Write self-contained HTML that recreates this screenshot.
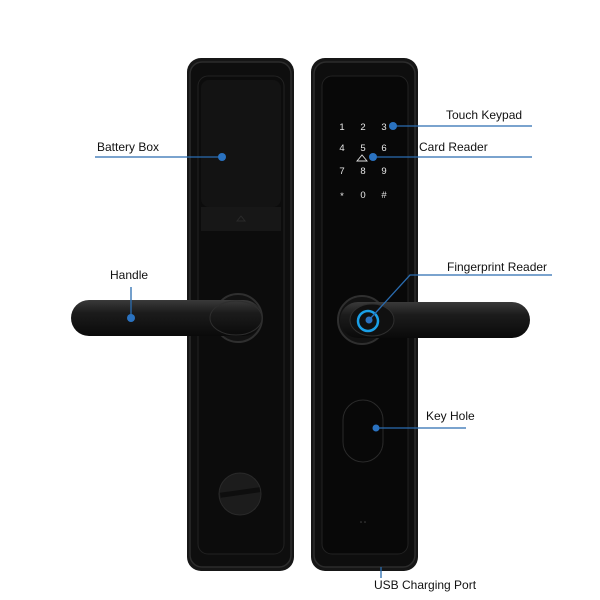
<!DOCTYPE html>
<html><head><meta charset="utf-8"><style>
html,body{margin:0;padding:0;background:#fff;}
svg{display:block;}
text{font-family:"Liberation Sans",sans-serif;font-size:12px;fill:#111;}
.k{fill:#e8e8e8;font-size:9.5px;}
</style></head><body>
<svg width="600" height="600" viewBox="0 0 600 600" xmlns="http://www.w3.org/2000/svg">
<defs>
<linearGradient id="h" x1="0" y1="0" x2="0" y2="1">
<stop offset="0" stop-color="#3a3a3a"/><stop offset="0.35" stop-color="#1c1c1c"/><stop offset="1" stop-color="#0a0a0a"/>
</linearGradient>
</defs>
<!-- left panel -->
<rect x="187" y="58" width="107" height="513" rx="14" fill="#161616"/>
<rect x="190" y="62" width="101" height="505" rx="12" fill="#0e0e0e" stroke="#2c2c2c" stroke-width="1.5"/>
<rect x="198" y="76" width="86" height="478" rx="10" fill="#0c0c0c" stroke="#222" stroke-width="1"/>
<rect x="201" y="80" width="80" height="127" rx="8" fill="#131313"/>
<rect x="201" y="207" width="80" height="24" fill="#171717"/>
<path d="M237 221 L241 216 L245 221 Z" fill="none" stroke="#2a2a2a"/>
<!-- thumb turn -->
<circle cx="240" cy="494" r="21" fill="#1c1c1c" stroke="#2a2a2a"/>
<rect x="220" y="490" width="40" height="5" fill="#0e0e0e" transform="rotate(-8 240 492)"/>
<!-- left handle -->
<circle cx="238" cy="318" r="24" fill="#121212" stroke="#2f2f2f" stroke-width="2"/>
<rect x="71" y="300" width="191" height="36" rx="18" fill="url(#h)"/>
<ellipse cx="236" cy="318" rx="26" ry="17" fill="none" stroke="#2e2e2e"/>
<!-- right panel -->
<rect x="311" y="58" width="107" height="513" rx="14" fill="#161616"/>
<rect x="314" y="62" width="101" height="505" rx="12" fill="#0e0e0e" stroke="#2c2c2c" stroke-width="1.5"/>
<rect x="322" y="76" width="86" height="478" rx="10" fill="#080808" stroke="#222" stroke-width="1"/>
<!-- keypad -->
<text class="k" x="342" y="130" text-anchor="middle">1</text>
<text class="k" x="363" y="130" text-anchor="middle">2</text>
<text class="k" x="384" y="130" text-anchor="middle">3</text>
<text class="k" x="342" y="151" text-anchor="middle">4</text>
<text class="k" x="363" y="151" text-anchor="middle">5</text>
<text class="k" x="384" y="151" text-anchor="middle">6</text>
<text class="k" x="342" y="174" text-anchor="middle">7</text>
<text class="k" x="363" y="174" text-anchor="middle">8</text>
<text class="k" x="384" y="174" text-anchor="middle">9</text>
<text class="k" x="342" y="199" text-anchor="middle">*</text>
<text class="k" x="363" y="198" text-anchor="middle">0</text>
<text class="k" x="384" y="198" text-anchor="middle">#</text>
<path d="M357 161 L362 155 L367 161 Z" fill="none" stroke="#ddd" stroke-width="0.9"/>
<!-- key hole -->
<rect x="343" y="400" width="40" height="62" rx="20" fill="none" stroke="#2a2a2a"/>
<circle cx="361" cy="522" r="0.8" fill="#444"/><circle cx="365" cy="522" r="0.8" fill="#444"/>
<!-- right handle -->
<circle cx="362" cy="320" r="24" fill="#121212" stroke="#2f2f2f" stroke-width="2"/>
<rect x="340" y="302" width="190" height="36" rx="18" fill="url(#h)"/>
<ellipse cx="372" cy="320" rx="22" ry="16" fill="#101010" stroke="#2e2e2e"/>
<circle cx="368" cy="321" r="10" fill="#101010" stroke="#1aa0e8" stroke-width="2.5"/>
<!-- callouts -->
<g stroke="#2a6cb0" stroke-width="1.3" fill="none">
<line x1="392" y1="126" x2="532" y2="126"/>
<line x1="373" y1="157" x2="532" y2="157"/>
<line x1="95" y1="157" x2="222" y2="157"/>
<line x1="131" y1="287" x2="131" y2="318"/>
<polyline points="369,320 410,275 552,275"/>
<line x1="376" y1="428" x2="466" y2="428"/>
<line x1="381" y1="567" x2="381" y2="578"/>
</g>
<g fill="#2a72c0">
<circle cx="393" cy="126" r="4"/>
<circle cx="373" cy="157" r="4"/>
<circle cx="222" cy="157" r="4"/>
<circle cx="131" cy="318" r="4"/>
<circle cx="369" cy="320" r="3.5"/>
<circle cx="376" cy="428" r="3.5"/>
</g>
<text x="446" y="119">Touch Keypad</text>
<text x="419" y="151">Card Reader</text>
<text x="97" y="151">Battery Box</text>
<text x="110" y="279">Handle</text>
<text x="447" y="271">Fingerprint Reader</text>
<text x="426" y="420">Key Hole</text>
<text x="374" y="589">USB Charging Port</text>
</svg>
</body></html>
